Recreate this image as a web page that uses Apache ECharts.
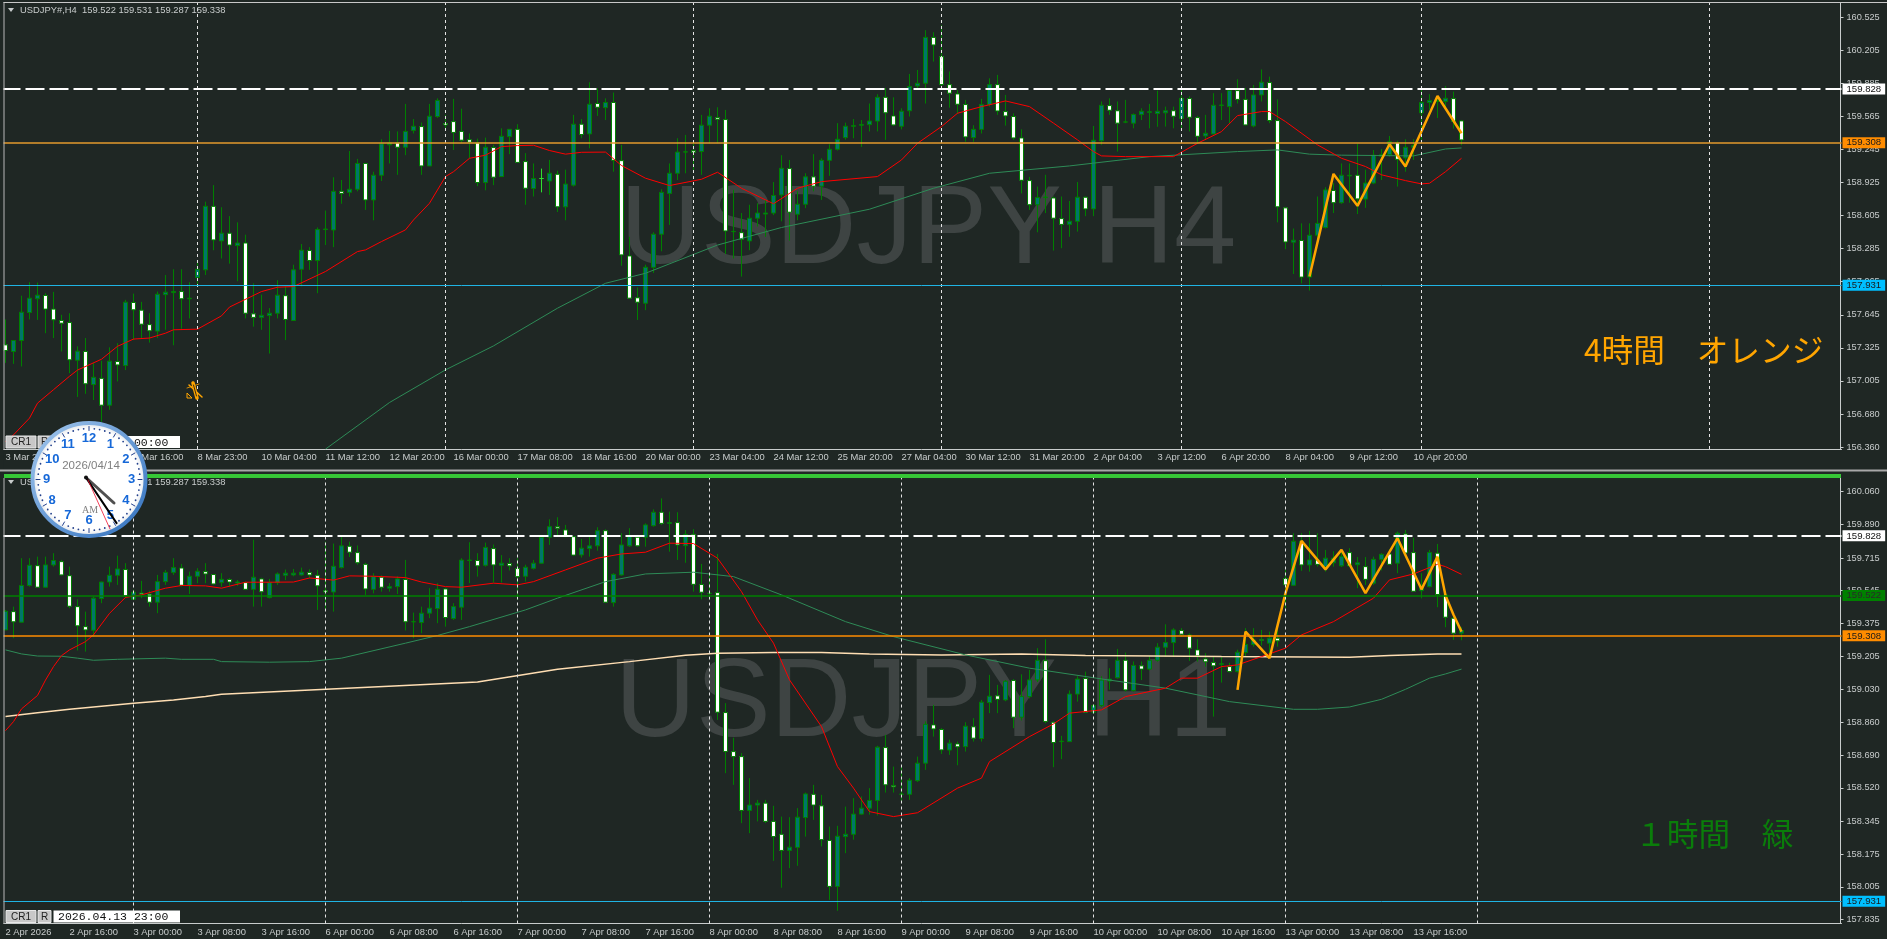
<!DOCTYPE html>
<html>
<head>
    <meta charset="utf-8">
    <title>USDJPY H4 / H1</title>
    <script src="https://cdn.jsdelivr.net/npm/echarts@6/dist/echarts.min.js"></script>
    <style>
        html, body { margin: 0; padding: 0; background: #1f2724; overflow: hidden; }
    </style>
</head>
<body>
    <div id="main" style="width:1887px;height:939px;"></div>
    <script type="text/javascript">
        // candles are [open, close, low, high]
        var topCandles = [
            [157.354,157.299,157.18,157.60],[157.29,157.396,157.17,157.40],[157.396,157.67,157.145,157.83],[157.667,157.806,157.60,157.96],
            [157.80,157.835,157.596,157.957],[157.832,157.70,157.467,157.854],[157.70,157.596,157.42,157.867],[157.59,157.564,157.29,157.645],
            [157.57,157.209,157.08,157.66],[157.205,157.293,156.85,157.34],[157.29,156.977,156.88,157.42],[156.97,157.04,156.82,157.18],
            [157.03,156.77,156.61,157.2],[156.77,157.196,156.725,157.33],[157.193,157.16,157.0,157.37],[157.154,157.767,157.11,157.79],
            [157.764,157.693,157.40,157.85],[157.69,157.554,157.42,157.77],[157.55,157.49,157.376,157.66],[157.487,157.844,157.42,157.87],
            [157.84,157.864,157.50,158.03],[157.86,157.87,157.35,158.086],[157.87,157.80,157.51,158.086],[157.80,157.805,157.61,157.96],
            [158.006,158.086,157.935,158.16],[158.08,158.695,158.03,158.74],[158.695,158.37,158.27,158.90],[158.36,158.435,158.19,158.686],
            [158.435,158.32,158.14,158.6],[158.315,158.34,157.97,158.54],[158.34,157.66,157.61,158.42],[157.654,157.62,157.53,157.95],
            [157.62,157.64,157.5,157.84],[157.638,157.66,157.27,157.71],[157.66,157.835,157.61,157.98],[157.83,157.60,157.40,157.92],
            [157.59,158.08,157.59,158.13],[158.086,158.27,157.92,158.33],[158.267,158.17,158.08,158.30],[158.17,158.47,157.854,158.49],
            [158.47,158.475,158.32,158.654],[158.466,158.84,158.30,158.976],[158.84,158.82,158.72,158.95],[158.83,158.86,158.79,159.23],
            [158.86,159.11,158.84,159.154],[159.11,158.757,158.66,159.11],[158.757,158.996,158.56,159.03],[158.996,159.30,158.94,159.344],
            [159.29,159.31,159.11,159.425],[159.31,159.267,159.0,159.42],[159.267,159.42,159.19,159.686],[159.43,159.47,159.40,159.54],
            [159.467,159.086,159.0,159.506],[159.086,159.567,159.086,159.686],[159.564,159.72,159.55,159.74],[159.496,159.483,159.43,159.58],
            [159.515,159.41,159.24,159.735],[159.42,159.335,159.31,159.64],[159.34,159.315,159.16,159.40],[159.31,158.925,158.89,159.35],
            [158.925,159.267,158.85,159.36],[159.264,158.977,158.90,159.29],[158.983,159.373,158.983,159.45],[159.37,159.44,159.2,159.44],
            [159.44,159.12,159.12,159.49],[159.128,158.87,158.71,159.21],[158.867,158.964,158.79,159.11],[158.964,158.964,158.83,159.06],
            [158.94,159.015,158.805,159.144],[159.005,158.69,158.64,159.04],[158.69,158.91,158.56,159.05],[158.90,159.49,158.886,159.58],
            [159.49,159.39,159.354,159.54],[159.396,159.683,159.257,159.896],[159.69,159.654,159.57,159.838],[159.65,159.70,159.53,159.74],
            [159.70,159.14,159.03,159.796],[159.137,158.225,158.12,159.29],[158.215,157.806,157.80,158.4],[157.81,157.767,157.595,157.91],
            [157.757,158.105,157.69,158.13],[158.105,158.425,158.05,158.444],[158.425,158.83,158.26,158.86],[158.82,159.015,158.515,159.11],
            [159.015,159.22,158.95,159.354],[159.22,159.222,159.015,159.386],[159.234,159.218,159.03,159.305],[159.225,159.48,159.0,159.58],
            [159.48,159.567,159.305,159.644],[159.554,159.538,159.305,159.654],[159.535,158.457,158.234,159.628],[158.45,158.452,158.19,158.854],
            [158.44,158.376,158.015,158.63],[158.36,158.58,158.27,158.71],[158.58,158.63,158.5,158.725],[158.62,158.63,158.4,158.757],
            [158.63,158.80,158.61,158.93],[158.805,159.063,158.55,159.19],[159.06,158.638,158.363,159.144],[158.618,158.715,158.56,158.84],
            [158.715,158.98,158.677,159.015],[158.98,158.89,158.84,159.2],[158.89,159.14,158.757,159.16],[159.14,159.247,158.99,159.296],
            [159.247,159.344,159.235,159.5],[159.36,159.47,159.34,159.505],[159.47,159.476,159.354,159.54],[159.48,159.486,159.27,159.53],
            [159.486,159.52,159.42,159.69],[159.52,159.75,159.42,159.78],[159.75,159.6,159.338,159.84],[159.57,159.483,159.473,159.75],
            [159.47,159.615,159.44,159.644],[159.62,159.855,159.564,159.976],[159.86,159.886,159.84,160.015],[159.886,160.33,159.69,160.4],
            [160.33,160.257,160.096,160.38],[160.144,159.873,159.854,160.45],[159.873,159.79,159.65,160.0],[159.783,159.683,159.59,159.82],
            [159.68,159.367,159.32,159.725],[159.36,159.44,159.32,159.48],[159.44,159.68,159.4,159.735],[159.68,159.873,159.66,159.934],
            [159.873,159.618,159.58,159.967],[159.612,159.57,159.476,159.773],[159.564,159.357,159.338,159.595],[159.357,158.947,158.82,159.44],
            [158.944,158.71,158.66,158.98],[158.71,158.78,158.444,158.886],[158.78,158.785,158.63,159.0],[158.776,158.58,158.267,158.79],
            [158.576,158.52,158.29,158.79],[158.52,158.55,158.4,158.747],[158.55,158.783,158.45,158.93],[158.783,158.67,158.6,158.79],
            [158.67,159.335,158.6,159.473],[159.33,159.673,159.29,159.71],[159.67,159.625,159.58,159.74],[159.62,159.5,159.225,159.71],
            [159.51,159.512,159.5,159.725],[159.5,159.583,159.45,159.595],[159.583,159.615,159.53,159.644],[159.605,159.61,159.45,159.686],
            [159.593,159.615,159.465,159.815],[159.6,159.62,159.467,159.66],[159.62,159.567,159.45,159.66],[159.545,159.74,159.435,159.83],
            [159.738,159.557,159.42,159.76],[159.554,159.373,159.3,159.57],[159.376,159.402,159.338,159.58],[159.396,159.673,159.39,159.79],
            [159.672,159.675,159.53,159.79],[159.66,159.815,159.5,159.83],[159.815,159.73,159.69,159.925],[159.73,159.483,159.48,159.84],
            [159.473,159.773,159.46,159.87],[159.773,159.896,159.71,160.02],[159.893,159.525,159.5,159.95],[159.525,158.69,158.54,159.73],
            [158.68,158.35,158.28,158.69],[158.348,158.367,158.04,158.48],[158.364,158.01,157.95,158.53],[158.01,158.415,157.88,158.53],
            [158.415,158.53,158.34,158.79],[158.49,158.854,158.48,158.88],[158.848,158.73,158.63,158.92],[158.73,158.996,158.72,159.11],
            [158.99,158.995,158.73,159.11],[158.996,158.767,158.62,159.3],[158.765,158.92,158.68,159.05],[158.92,159.19,158.91,159.24],
            [159.18,159.195,158.95,159.25],[159.195,159.32,159.176,159.376],[159.312,159.15,158.886,159.33],[159.163,159.267,159.03,159.344],
            [159.267,159.283,159.144,159.344],[159.6,159.7,159.305,159.828],[159.7,159.72,159.63,159.78],[159.71,159.72,159.55,159.76],
            [159.71,159.74,159.63,159.86],[159.738,159.515,159.447,159.805],[159.522,159.338,159.287,159.531]
        ];

        var bottomCandles = [
            [159.341,159.438,159.34,159.445],[159.436,159.383,159.298,159.462],[159.381,159.572,159.38,159.714],[159.572,159.677,159.566,159.714],
            [159.675,159.563,159.56,159.722],[159.563,159.679,159.56,159.722],[159.679,159.702,159.67,159.74],[159.696,159.627,159.623,159.705],
            [159.623,159.464,159.454,159.67],[159.462,159.362,159.234,159.5],[159.358,159.341,159.228,159.436],[159.339,159.506,159.306,159.514],
            [159.504,159.59,159.48,159.592],[159.59,159.625,159.566,159.67],[159.625,159.658,159.575,159.727],[159.655,159.518,159.506,159.688],
            [159.5,159.537,159.497,159.55],[159.533,159.528,159.506,159.596],[159.527,159.485,159.462,159.544],[159.485,159.592,159.428,159.627],
            [159.592,159.64,159.575,159.653],[159.64,159.665,159.627,159.714],[159.663,159.573,159.566,159.684],[159.572,159.62,159.528,159.644],
            [159.62,159.646,159.584,159.662],[159.644,159.632,159.584,159.688],[159.629,159.58,159.575,159.63],[159.587,159.604,159.566,159.636],
            [159.603,159.59,159.566,159.61],[159.585,159.59,159.57,159.6],[159.587,159.552,159.548,159.592],[159.552,159.615,159.462,159.81],
            [159.606,159.539,159.462,159.612],[159.509,159.587,159.505,159.606],[159.587,159.632,159.575,159.64],[159.625,159.636,159.6,159.655],
            [159.627,159.636,159.62,159.658],[159.627,159.641,159.623,159.665],[159.639,159.627,159.61,159.656],[159.625,159.57,159.445,159.653],
            [159.545,159.538,159.445,159.8],[159.538,159.672,159.436,159.79],[159.665,159.778,159.66,159.826],[159.776,159.745,159.72,159.8],
            [159.743,159.69,159.68,159.78],[159.682,159.554,159.523,159.69],[159.552,159.618,159.531,159.636],[159.615,159.563,159.54,159.625],
            [159.558,159.566,159.54,159.584],[159.566,159.606,159.528,159.62],[159.603,159.383,159.338,159.705],[159.383,159.384,159.298,159.431],
            [159.379,159.428,159.324,159.462],[159.428,159.454,159.402,159.558],[159.452,159.552,159.376,159.584],[159.554,159.405,159.358,159.56],
            [159.4,159.462,159.393,159.48],[159.459,159.704,159.393,159.714],[159.702,159.704,159.584,159.797],[159.702,159.674,159.618,159.74],
            [159.677,159.77,159.67,159.795],[159.764,159.679,159.587,159.785],[159.677,159.688,159.587,159.73],[159.686,159.674,159.65,159.714],
            [159.66,159.618,159.497,159.714],[159.62,159.667,159.592,159.68],[159.661,159.688,159.655,159.705],[159.688,159.823,159.685,159.835],
            [159.823,159.878,159.783,159.916],[159.878,159.87,159.83,159.927],[159.861,159.826,159.823,159.887],[159.826,159.73,159.726,159.83],
            [159.731,159.766,159.717,159.814],[159.764,159.778,159.722,159.835],[159.778,159.857,159.753,159.875],[159.857,159.485,159.48,159.864],
            [159.483,159.63,159.462,159.636],[159.627,159.783,159.623,159.844],[159.778,159.826,159.773,159.87],[159.823,159.778,159.773,159.835],
            [159.823,159.887,159.774,159.895],[159.883,159.953,159.878,159.968],[159.953,159.895,159.887,160.025],[159.895,159.899,159.748,159.956],
            [159.899,159.783,159.705,159.953],[159.779,159.838,159.69,159.86],[159.838,159.578,159.54,159.865],[159.577,159.537,159.5,159.684],
            [159.53,159.532,159.497,159.635],[159.535,158.913,158.873,159.736],[158.911,158.708,158.596,158.96],[158.708,158.682,158.535,158.78],
            [158.682,158.402,158.336,158.7],[158.402,158.43,158.284,158.57],[158.43,158.44,158.345,158.457],[158.44,158.345,158.336,158.457],
            [158.345,158.266,158.14,158.426],[158.278,158.194,158.0,158.37],[158.194,158.211,158.102,158.367],[158.21,158.367,158.114,158.414],
            [158.365,158.488,158.266,158.495],[158.486,158.43,158.353,158.535],[158.426,158.25,158.215,158.483],[158.246,158.007,157.937,158.318],
            [158.007,158.268,157.88,158.322],[158.266,158.278,158.18,158.422],[158.278,158.383,158.25,158.466],[158.383,158.414,158.38,158.475],
            [158.414,158.454,158.38,158.518],[158.454,158.731,158.376,158.738],[158.729,158.535,158.495,158.795],[158.532,158.525,158.495,158.63],
            [158.486,158.487,158.443,158.63],[158.486,158.559,158.457,158.57],[158.557,158.648,158.55,158.682],[158.648,158.85,158.613,158.865],
            [158.847,158.826,158.786,158.951],[158.823,158.717,158.696,158.83],[158.716,158.752,158.691,158.77],[158.748,158.733,158.637,158.76],
            [158.734,158.84,158.708,158.861],[158.837,158.778,158.76,158.882],[158.776,158.965,158.76,158.977],[158.963,158.996,158.908,159.107],
            [158.998,158.98,158.908,159.055],[158.977,159.074,158.97,159.08],[159.078,158.887,158.83,159.085],[158.887,158.994,158.87,159.11],
            [158.994,159.081,158.985,159.133],[159.081,159.183,159.07,159.246],[159.181,158.864,158.855,159.292],[158.861,158.755,158.627,158.865],
            [158.76,158.762,158.669,158.79],[158.76,159.007,158.76,159.026],[159.007,159.085,158.968,159.1],[159.088,158.913,158.908,159.124],
            [158.913,158.948,158.905,158.955],[158.948,159.08,158.94,159.1],[159.075,159.085,159.03,159.142],[159.092,159.183,159.088,159.242],
            [159.183,159.029,159.02,159.223],[159.026,159.156,159.02,159.177],[159.154,159.137,159.08,159.177],[159.137,159.183,159.13,159.205],
            [159.183,159.251,159.176,159.272],[159.251,159.275,159.2,159.37],[159.275,159.341,159.2,159.35],[159.338,159.319,159.306,159.35],
            [159.315,159.246,159.18,159.323],[159.237,159.206,159.176,159.292],[159.19,159.175,159.15,159.22],[159.171,159.154,158.89,159.2],
            [159.162,159.165,159.067,159.2],[159.15,159.124,159.12,159.17],[159.124,159.225,159.12,159.238],[159.223,159.265,159.2,159.35],
            [159.265,159.289,159.254,159.35],[159.29,159.287,159.26,159.341],[159.272,159.298,159.194,159.332],[159.298,159.284,159.254,159.358],
            [159.608,159.575,159.454,159.653],[159.573,159.802,159.57,159.844],[159.802,159.679,159.648,159.844],[159.679,159.705,159.644,159.856],
            [159.705,159.682,159.67,159.844],[159.67,159.714,159.644,159.757],[159.69,159.714,159.67,159.75],[159.674,159.722,159.668,159.757],
            [159.743,159.674,159.668,159.766],[159.68,159.69,159.558,159.72],[159.67,159.604,159.575,159.72],[159.584,159.708,159.575,159.722],
            [159.708,159.734,159.65,159.74],[159.736,159.682,159.678,159.76],[159.688,159.844,159.636,159.852],[159.84,159.741,159.738,159.861],
            [159.743,159.542,159.538,159.82],[159.545,159.558,159.505,159.636],[159.566,159.743,159.562,159.757],[159.74,159.525,159.459,159.788],
            [159.523,159.407,159.355,159.53],[159.402,159.324,159.289,159.41],[159.324,159.338,159.287,159.355]
        ];

        var topRedMa = [[0,156.42],[1,156.483],[3,156.645],[4,156.79],[6,156.92],[8,157.05],[9,157.11],[12,157.215],[14,157.34],[16,157.41],[18,157.42],[20,157.467],[21,157.5],[24,157.506],[27,157.635],[28,157.72],[32,157.87],[34,157.912],[36,157.918],[40,158.064],[44,158.257],[45,158.273],[47,158.354],[50,158.467],[51,158.563],[53,158.725],[55,158.983],[56,159.03],[58,159.16],[60,159.19],[62,159.273],[64,159.283],[66,159.286],[68,159.235],[70,159.2],[72,159.218],[75,159.22],[77,159.09],[80,158.967],[83,158.896],[87,158.957],[89,159.025],[92,158.87],[96,158.72],[99,158.87],[102,158.934],[109,158.983],[112,159.144],[114,159.305],[117,159.467],[119,159.596],[122,159.66],[125,159.715],[128,159.66],[131,159.5],[134,159.338],[136,159.225],[137,159.183],[140,159.176],[146,159.176],[149,159.305],[152,159.418],[154,159.573],[157,159.612],[158,159.612],[160,159.515],[164,159.29],[167,159.16],[170,159.08],[172,159.0],[175,158.944],[177,158.912],[178,158.918],[180,159.03],[182,159.16]];
        var topGreenMa = [[40,156.345],[48,156.796],[55,157.112],[61,157.344],[69,157.709],[75,157.95],[80,158.047],[89,158.32],[97,158.49],[108,158.667],[116,158.87],[123,159.015],[133,159.086],[143,159.176],[154,159.225],[159,159.241],[163,159.2],[167,159.19],[176,159.183],[180,159.25],[182,159.26]];
        var bottomRedMa = [[0,158.817],[1,158.864],[2,158.93],[4,159.0],[5,159.08],[6,159.15],[7,159.207],[8,159.237],[10,159.28],[11,159.315],[13,159.427],[15,159.51],[17,159.523],[20,159.558],[22,159.572],[25,159.57],[27,159.558],[30,159.589],[33,159.589],[36,159.59],[38,159.611],[41,159.6],[43,159.622],[46,159.62],[50,159.613],[52,159.59],[55,159.566],[57,159.563],[61,159.584],[64,159.575],[66,159.592],[70,159.653],[74,159.714],[77,159.736],[80,159.745],[83,159.792],[86,159.79],[89,159.714],[92,159.54],[94,159.393],[96,159.272],[98,159.081],[102,158.838],[104,158.63],[106,158.518],[108,158.396],[111,158.37],[114,158.39],[119,158.518],[122,158.57],[123,158.656],[128,158.786],[131,158.852],[133,158.908],[137,158.925],[140,158.994],[145,159.038],[147,159.09],[149,159.09],[152,159.15],[154,159.159],[157,159.202],[160,159.246],[162,159.315],[166,159.384],[171,159.506],[173,159.601],[176,159.632],[179,159.682],[180,159.67],[182,159.63]];
        var bottomGreenMa = [[0,159.237],[2,159.216],[4,159.205],[7,159.204],[9,159.194],[11,159.183],[14,159.188],[20,159.194],[22,159.188],[26,159.188],[27,159.176],[33,159.173],[38,159.176],[42,159.194],[50,159.272],[54,159.312],[58,159.358],[65,159.445],[69,159.506],[75,159.592],[80,159.632],[86,159.641],[91,159.618],[97,159.523],[105,159.384],[111,159.306],[120,159.211],[128,159.142],[137,159.086],[145,159.038],[153,158.968],[161,158.928],[164,158.928],[168,158.94],[172,158.98],[175,159.032],[178,159.09],[180,159.112],[182,159.137]];
        var bottomBeigeMa = [[0,158.89],[4,158.91],[8,158.928],[12,158.944],[16,158.96],[21,158.977],[25,158.994],[27,159.006],[59,159.07],[69,159.136],[78,159.176],[85,159.209],[89,159.22],[96,159.223],[102,159.223],[108,159.216],[117,159.211],[127,159.215],[135,159.208],[152,159.202],[168,159.199],[173,159.208],[179,159.215],[182,159.216]];

        // orange zigzag
        var topZigzag = [[163,158.015],[166,159.009],[169,158.70],[173,159.296],[175,159.08],[179,159.763],[182,159.402]];
        var bottomZigzag = [[154,159.029],[155,159.332],[158,159.194],[160,159.532],[162,159.804],[165,159.656],[167,159.757],[170,159.532],[174,159.818],[177,159.552],[179,159.722],[180,159.52],[181,159.42],[182,159.332]];

        // tick labels
        var topTimes = ['3 Mar 2026','4 Mar 16:00','5 Mar 16:00','8 Mar 23:00','10 Mar 04:00','11 Mar 12:00','12 Mar 20:00','16 Mar 00:00','17 Mar 08:00','18 Mar 16:00','20 Mar 00:00','23 Mar 04:00','24 Mar 12:00','25 Mar 20:00','27 Mar 04:00','30 Mar 12:00','31 Mar 20:00','2 Apr 04:00','3 Apr 12:00','6 Apr 20:00','8 Apr 04:00','9 Apr 12:00','10 Apr 20:00'];
        var bottomTimes = ['2 Apr 2026','2 Apr 16:00','3 Apr 00:00','3 Apr 08:00','3 Apr 16:00','6 Apr 00:00','6 Apr 08:00','6 Apr 16:00','7 Apr 00:00','7 Apr 08:00','7 Apr 16:00','8 Apr 00:00','8 Apr 08:00','8 Apr 16:00','9 Apr 00:00','9 Apr 08:00','9 Apr 16:00','10 Apr 00:00','10 Apr 08:00','10 Apr 16:00','13 Apr 00:00','13 Apr 08:00','13 Apr 16:00'];
        var topPriceTicks = [160.525,160.205,159.885,159.565,159.245,158.925,158.605,158.285,157.965,157.645,157.325,157.005,156.680,156.360];
        var bottomPriceTicks = [160.060,159.890,159.715,159.545,159.375,159.205,159.030,158.860,158.690,158.520,158.345,158.175,158.005,157.835];

        // period separators, as bar indexes
        var topSeparators = [24,55,86,117,147,177,213];
        var bottomSeparators = [16,40,64,88,112,136,160,184];

        // horizontal levels
        var lastPrice = 159.338;
        var dashedLevel = 159.828;
        var orangeLevel = 159.308;
        var blueLevel = 157.931;
        var greenLevel = 159.522;

        var BAR_SLOTS = 230;
        var BG = '#1f2724';
        var AXIS_COLOR = '#c8cccc';
        var FONT = '"Liberation Sans", sans-serif';

        function buildCategories(labels) {
            var cats = [];
            for (var i = 0; i < BAR_SLOTS; i++) {
                cats.push(i % 8 === 0 && labels[i / 8] ? labels[i / 8] : '');
            }
            return cats;
        }

        function xAxisOf(gridIndex, labels) {
            return {
                type: 'category',
                gridIndex: gridIndex,
                data: buildCategories(labels),
                boundaryGap: true,
                axisLine: { lineStyle: { color: AXIS_COLOR, width: 1 } },
                axisTick: {
                    alignWithLabel: true,
                    length: 3,
                    lineStyle: { color: AXIS_COLOR },
                    interval: function (i) { return i % 8 === 0 && i <= 176; }
                },
                axisLabel: {
                    interval: 7, align: 'left', margin: 4, showMaxLabel: false,
                    color: AXIS_COLOR, fontFamily: FONT, fontSize: 9.4
                },
                splitLine: { show: false }
            };
        }

        function yAxisOf(gridIndex, min, max, ticks) {
            return {
                type: 'value',
                gridIndex: gridIndex,
                position: 'right',
                offset: -1,
                min: min,
                max: max,
                scale: true,
                axisLine: { show: true, lineStyle: { color: AXIS_COLOR, width: 1 } },
                axisTick: { show: true, length: 3, lineStyle: { color: AXIS_COLOR }, customValues: ticks },
                axisLabel: {
                    customValues: ticks, margin: 6, color: AXIS_COLOR, fontFamily: FONT, fontSize: 9.2,
                    formatter: function (v) { return v.toFixed(3); }
                },
                splitLine: { show: false }
            };
        }

        function levelLine(price, lineColor, labelBg, labelColor, width, dash) {
            return {
                yAxis: price,
                lineStyle: { color: lineColor, width: width, type: dash || 'solid', opacity: width ? 1 : 0 },
                label: {
                    show: true, position: 'end', distance: 1, formatter: price.toFixed(3),
                    backgroundColor: labelBg, color: labelColor, fontFamily: FONT, fontSize: 9.6,
                    padding: [1, 4, 0, 4], lineHeight: 10
                }
            };
        }

        // lines under the candles: separators and price levels
        function levelSeries(index, separators, levels) {
            var lines = separators.map(function (i) {
                return { xAxis: i, label: { show: false }, lineStyle: { color: '#e4e4e4', width: 1, type: [3, 3] } };
            });
            return {
                type: 'line', name: 'levels' + index, xAxisIndex: index, yAxisIndex: index, data: [], z: 1,
                markLine: { silent: true, animation: false, symbol: ['none', 'none'], data: lines.concat(levels) }
            };
        }

        function candleSeries(index, bars) {
            return {
                type: 'candlestick', xAxisIndex: index, yAxisIndex: index, data: bars, z: 2,
                barWidth: 4,
                itemStyle: {
                    color: '#00766a', color0: '#ffffff',
                    borderColor: '#008000', borderColor0: '#008000', borderColorDoji: '#2fe02f', borderWidth: 1
                }
            };
        }

        function lineSeries(index, points, color, width, z) {
            return {
                type: 'line', xAxisIndex: index, yAxisIndex: index, data: points, z: z || 3,
                showSymbol: false, symbol: 'none', lineStyle: { color: color, width: width }
            };
        }

        function label(text, x, y, fill, font, z, align) {
            return {
                type: 'text', z: z, silent: true,
                style: { text: text, x: x, y: y, fill: fill, font: font, textAlign: align || 'left', textVerticalAlign: 'middle' }
            };
        }

        function rect(x, y, w, h, fill, z, stroke) {
            return { type: 'rect', z: z, silent: true, shape: { x: x, y: y, width: w, height: h }, style: { fill: fill, stroke: stroke || null } };
        }

        function line(x1, y1, x2, y2, color, width, z) {
            return { type: 'line', z: z, silent: true, shape: { x1: x1, y1: y1, x2: x2, y2: y2 }, style: { stroke: color, lineWidth: width, lineCap: 'round' } };
        }

        function clockParts() {
            var cx = 89, cy = 479.5, z = 100;
            var parts = [{
                type: 'circle', z: z, silent: true, shape: { cx: cx, cy: cy, r: 56.5 },
                style: {
                    fill: { type: 'radial', x: 0.5, y: 0.5, r: 0.5, colorStops: [{ offset: 0, color: '#ffffff' }, { offset: 0.86, color: '#ffffff' }, { offset: 1, color: '#d6dbe2' }] },
                    stroke: { type: 'linear', x: 0, y: 0, x2: 1, y2: 1, colorStops: [{ offset: 0, color: '#a4c8ee' }, { offset: 1, color: '#2f6fbd' }] },
                    lineWidth: 4
                }
            }];
            for (var i = 0; i < 60; i++) {
                var a = i * Math.PI / 30;
                var sx = Math.sin(a), cs = -Math.cos(a);
                if (i % 5 === 0) {
                    parts.push(line(cx + sx * 49, cy + cs * 49, cx + sx * 53, cy + cs * 53, '#23408c', 1, z + 1));
                } else {
                    parts.push({ type: 'circle', z: z + 1, silent: true, shape: { cx: cx + sx * 51, cy: cy + cs * 51, r: 0.9 }, style: { fill: '#23408c' } });
                }
            }
            for (var h = 1; h <= 12; h++) {
                var b = h * Math.PI / 6;
                parts.push(label(String(h), cx + Math.sin(b) * 42.5, cy - Math.cos(b) * 41, '#1668d8', 'bold 13px ' + FONT, z + 1, 'center'));
            }
            parts.push(label('2026/04/14', 91, 465.5, '#808080', '11.5px ' + FONT, z + 1, 'center'));
            parts.push(label('AM', 90, 510.5, '#808080', '10px "Liberation Serif", serif', z + 1, 'center'));
            parts.push(line(86, 477.5, 114, 503, '#505050', 3, z + 2));
            parts.push(line(86, 477.5, 116.5, 523, '#000000', 2.2, z + 3));
            parts.push(line(88, 480, 110, 529, '#f01030', 0.8, z + 4));
            parts.push({ type: 'circle', z: z + 5, silent: true, shape: { cx: 86, cy: 477.5, r: 2 }, style: { fill: '#111111' } });
            return parts;
        }

        function chartButtons(y, stamp) {
            return [
                rect(6, y, 30, 12, '#c8c8c8', 50, '#e8e8e8'),
                label('CR1', 21, y + 6.5, '#222222', '10px ' + FONT, 51, 'center'),
                rect(38, y, 13, 12, '#c8c8c8', 50, '#e8e8e8'),
                label('R', 44.5, y + 6.5, '#222222', '10px ' + FONT, 51, 'center'),
                rect(53.5, y, 126.5, 12, '#ffffff', 50),
                label(stamp, 58, y + 6.5, '#101010', '11.5px "Liberation Mono", monospace', 51)
            ];
        }

        function pencilIcon() {
            return [
                line(189, 385, 202, 397, '#ffa500', 1.5, 10),
                line(187, 388, 199, 384, '#ffa500', 0.8, 10),
                line(193, 383, 197, 398, '#ffa500', 3.5, 10),
                line(193.5, 385, 196.5, 396, '#3a2c10', 1, 11),
                { type: 'polygon', z: 10, silent: true, shape: { points: [[187, 398], [192, 398], [187, 393]] }, style: { fill: 'none', stroke: '#ffa500', lineWidth: 1 } }
            ];
        }

        var graphics = [
            // window frame and panel separator
            rect(0, 0, 3.5, 939, BG, 20),
            rect(3.5, 2, 1, 448, '#b8b8b8', 21),
            rect(3.5, 478, 1, 446, '#b8b8b8', 21),
            rect(3.5, 2, 1883.5, 1, '#c8c8c8', 21),
            rect(0, 469.5, 1887, 2, '#a8a8a8', 21),
            rect(4, 474, 1837, 4, '#36c636', 21),
            // watermarks
            label('USDJPY H4', 620, 232, '#3e4443', '112px ' + FONT, 0),
            label('USDJPY H1', 615, 705, '#3e4443', '112px ' + FONT, 0),
            // panel headers
            { type: 'polygon', z: 22, silent: true, shape: { points: [[8, 8], [14, 8], [11, 12]] }, style: { fill: AXIS_COLOR } },
            label('USDJPY#,H4  159.522 159.531 159.287 159.338', 20, 10.5, AXIS_COLOR, '9.4px ' + FONT, 22),
            { type: 'polygon', z: 22, silent: true, shape: { points: [[8, 480], [14, 480], [11, 484]] }, style: { fill: AXIS_COLOR } },
            label('USDJPY#,H1  159.522 159.531 159.287 159.338', 20, 482.5, AXIS_COLOR, '9.4px ' + FONT, 22),
            // timeframe captions
            label('4時間　オレンジ', 1584, 350, '#ffa500', '31.7px "Noto Sans CJK JP", sans-serif', 22),
            label('１時間　緑', 1635, 834, '#0a7d0a', '31.7px "Noto Sans CJK JP", sans-serif', 22)
        ].concat(chartButtons(436, '2026.03.03 00:00'), chartButtons(910.5, '2026.04.13 23:00'), pencilIcon(), clockParts());

        var myChart = echarts.init(document.getElementById('main'));
        var option = {
            animation: false,
            backgroundColor: BG,
            grid: [
                { left: 1.5, top: 3, width: 1840, height: 446 },
                { left: 1.5, top: 478, width: 1840, height: 445.5 }
            ],
            xAxis: [xAxisOf(0, topTimes), xAxisOf(1, bottomTimes)],
            yAxis: [
                yAxisOf(0, 156.346, 160.663, topPriceTicks),
                yAxisOf(1, 157.814, 160.131, bottomPriceTicks)
            ],
            series: [
                levelSeries(0, topSeparators, [
                    levelLine(lastPrice, AXIS_COLOR, '#c4c4c4', '#222222', 0),
                    levelLine(dashedLevel, '#ffffff', '#ffffff', '#111111', 2, [19, 5]),
                    levelLine(orangeLevel, '#e39a2c', '#ff8c00', '#1a1a1a', 1.5),
                    levelLine(blueLevel, '#1fb4e4', '#00bfff', '#1a1a1a', 1)
                ]),
                levelSeries(1, bottomSeparators, [
                    levelLine(lastPrice, AXIS_COLOR, '#c4c4c4', '#222222', 0),
                    levelLine(dashedLevel, '#ffffff', '#ffffff', '#111111', 2, [19, 5]),
                    levelLine(greenLevel, '#008000', '#008000', '#2a2a2a', 1.5),
                    levelLine(orangeLevel, '#ff8c00', '#ff8c00', '#1a1a1a', 1.5),
                    levelLine(blueLevel, '#1fb4e4', '#00bfff', '#1a1a1a', 1)
                ]),
                candleSeries(0, topCandles),
                candleSeries(1, bottomCandles),
                lineSeries(0, topGreenMa, '#2e8b57', 1),
                lineSeries(0, topRedMa, '#ff0000', 1),
                lineSeries(0, topZigzag, '#ffa500', 2.5, 4),
                lineSeries(1, bottomBeigeMa, '#ffdeb3', 1.5),
                lineSeries(1, bottomGreenMa, '#2e8b57', 1),
                lineSeries(1, bottomRedMa, '#ff0000', 1),
                lineSeries(1, bottomZigzag, '#ffa500', 2.5, 4)
            ],
            graphic: { elements: graphics }
        };
        myChart.setOption(option);
    </script>
</body>
</html>
